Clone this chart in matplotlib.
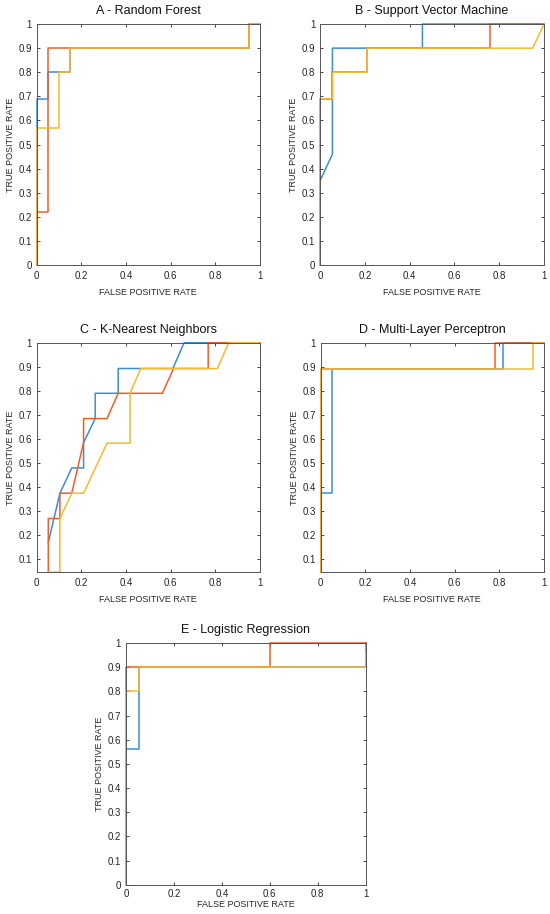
import numpy as np
import matplotlib.pyplot as plt

plt.rcParams['font.family'] = ['Liberation Sans', 'DejaVu Sans']

BLUE = '#3d8dd6'
ORANGE = '#e8602c'
YELLOW = '#f4b935'

titles = ['A - Random Forest', 'B - Support Vector Machine', 'C - K-Nearest Neighbors',
          'D - Multi-Layer Perceptron', 'E - Logistic Regression']

# ROC curves (FPR, TPR) per model, three classes: blue, orange, yellow
rf_blue_x = [0, 0, 0.05, 0.05, 0.15, 0.15, 0.95, 0.95, 1]
rf_blue_y = [0, 0.69, 0.69, 0.8, 0.8, 0.9, 0.9, 1, 1]
rf_orange_x = [0, 0, 0.05, 0.05, 0.15, 0.95, 0.95, 1]
rf_orange_y = [0, 0.22, 0.22, 0.9, 0.9, 0.9, 1, 1]
rf_yellow_x = [0, 0, 0.1, 0.1, 0.15, 0.15, 0.95, 0.95, 1]
rf_yellow_y = [0, 0.57, 0.57, 0.8, 0.8, 0.9, 0.9, 1, 1]

svm_blue_x = [0, 0, 0.055, 0.055, 0.457, 0.457, 1]
svm_blue_y = [0, 0.35, 0.46, 0.9, 0.9, 1, 1]
svm_orange_x = [0, 0, 0.055, 0.055, 0.21, 0.21, 0.76, 0.76, 1]
svm_orange_y = [0, 0.69, 0.69, 0.8, 0.8, 0.9, 0.9, 1, 1]
svm_yellow_x = [0, 0, 0.055, 0.055, 0.21, 0.21, 0.95, 1]
svm_yellow_y = [0, 0.69, 0.69, 0.8, 0.8, 0.9, 0.9, 1]

knn_blue_x = [0.052, 0.104, 0.157, 0.21, 0.21, 0.262, 0.262, 0.365, 0.365, 0.61, 0.66, 1]
knn_blue_y = [0.17, 0.375, 0.48, 0.48, 0.585, 0.685, 0.79, 0.79, 0.893, 0.893, 1, 1]
knn_orange_x = [0.052, 0.052, 0.104, 0.104, 0.157, 0.21, 0.21, 0.315, 0.365, 0.563, 0.613, 0.768, 0.768, 1]
knn_orange_y = [0.047, 0.27, 0.27, 0.375, 0.375, 0.585, 0.685, 0.685, 0.79, 0.79, 0.893, 0.893, 1, 1]
knn_yellow_x = [0.052, 0.104, 0.104, 0.157, 0.21, 0.315, 0.418, 0.418, 0.466, 0.809, 0.86, 1]
knn_yellow_y = [0.047, 0.047, 0.27, 0.375, 0.375, 0.583, 0.583, 0.79, 0.893, 0.893, 1, 1]

mlp_blue_x = [0, 0, 0.052, 0.052, 0.818, 0.818, 1]
mlp_blue_y = [0.047, 0.375, 0.375, 0.893, 0.893, 1, 1]
mlp_orange_x = [0, 0, 0.781, 0.781, 1]
mlp_orange_y = [0.047, 0.893, 0.893, 1, 1]
mlp_yellow_x = [0, 0, 0.953, 0.953, 1]
mlp_yellow_y = [0.047, 0.893, 0.893, 1, 1]

lr_blue_x = [0, 0, 0.053, 0.053, 1, 1]
lr_blue_y = [0, 0.563, 0.563, 0.9, 0.9, 1]
lr_orange_x = [0, 0, 0.602, 0.602, 1]
lr_orange_y = [0, 0.9, 0.9, 1, 1]
lr_yellow_x = [0, 0, 0.053, 0.053, 1, 1]
lr_yellow_y = [0, 0.8, 0.8, 0.9, 0.9, 0.965]

curves = [
    [(rf_blue_x, rf_blue_y), (rf_orange_x, rf_orange_y), (rf_yellow_x, rf_yellow_y)],
    [(svm_blue_x, svm_blue_y), (svm_orange_x, svm_orange_y), (svm_yellow_x, svm_yellow_y)],
    [(knn_blue_x, knn_blue_y), (knn_orange_x, knn_orange_y), (knn_yellow_x, knn_yellow_y)],
    [(mlp_blue_x, mlp_blue_y), (mlp_orange_x, mlp_orange_y), (mlp_yellow_x, mlp_yellow_y)],
    [(lr_blue_x, lr_blue_y), (lr_orange_x, lr_orange_y), (lr_yellow_x, lr_yellow_y)],
]
y_bottoms = [0, 0, 0.047, 0.047, 0]

rects = [
    [0.0667, 0.710, 0.406, 0.2637],
    [0.582, 0.710, 0.407, 0.2637],
    [0.0667, 0.374, 0.406, 0.251],
    [0.583, 0.374, 0.406, 0.251],
    [0.229, 0.032, 0.436, 0.2645],
]
xpads = [4, 4, 4, 4, 3]
xlabelpads = [5, 5, 5, 5, 1]

fig = plt.figure(figsize=(5.5, 9.14), dpi=100)

for i in range(5):
    ax = fig.add_axes(rects[i])
    for (xs, ys), c in zip(curves[i], [BLUE, ORANGE, YELLOW]):
        ax.plot(xs, ys, color=c, linewidth=1.1, clip_on=False)
    ax.set_xlim(0, 1)
    ax.set_ylim(y_bottoms[i], 1)
    ax.set_xticks(np.arange(0, 1.01, 0.2))
    ax.set_xticklabels(['0', '0.2', '0.4', '0.6', '0.8', '1'])
    if y_bottoms[i] == 0:
        yt = np.arange(0, 1.01, 0.1)
    else:
        yt = np.arange(0.1, 1.01, 0.1)
    ax.set_yticks(yt)
    ax.set_yticklabels(['%g' % round(v, 1) for v in yt])
    ax.tick_params(direction='in', length=2.5, width=0.6, labelsize=7, colors='#262626',
                   top=True, right=True)
    ax.tick_params(axis='x', pad=xpads[i])
    ax.tick_params(axis='y', pad=3.5)
    for s in ax.spines.values():
        s.set_color('#555555')
        s.set_linewidth(0.7)
    ax.set_title(titles[i], fontsize=9, pad=7, color='#111111')
    ax.set_xlabel('FALSE POSITIVE RATE', fontsize=6.5, labelpad=xlabelpads[i], color='#262626')
    ax.set_ylabel('TRUE POSITIVE RATE', fontsize=6.5, labelpad=2.5, color='#262626')

plt.savefig('out.png', dpi=100)
